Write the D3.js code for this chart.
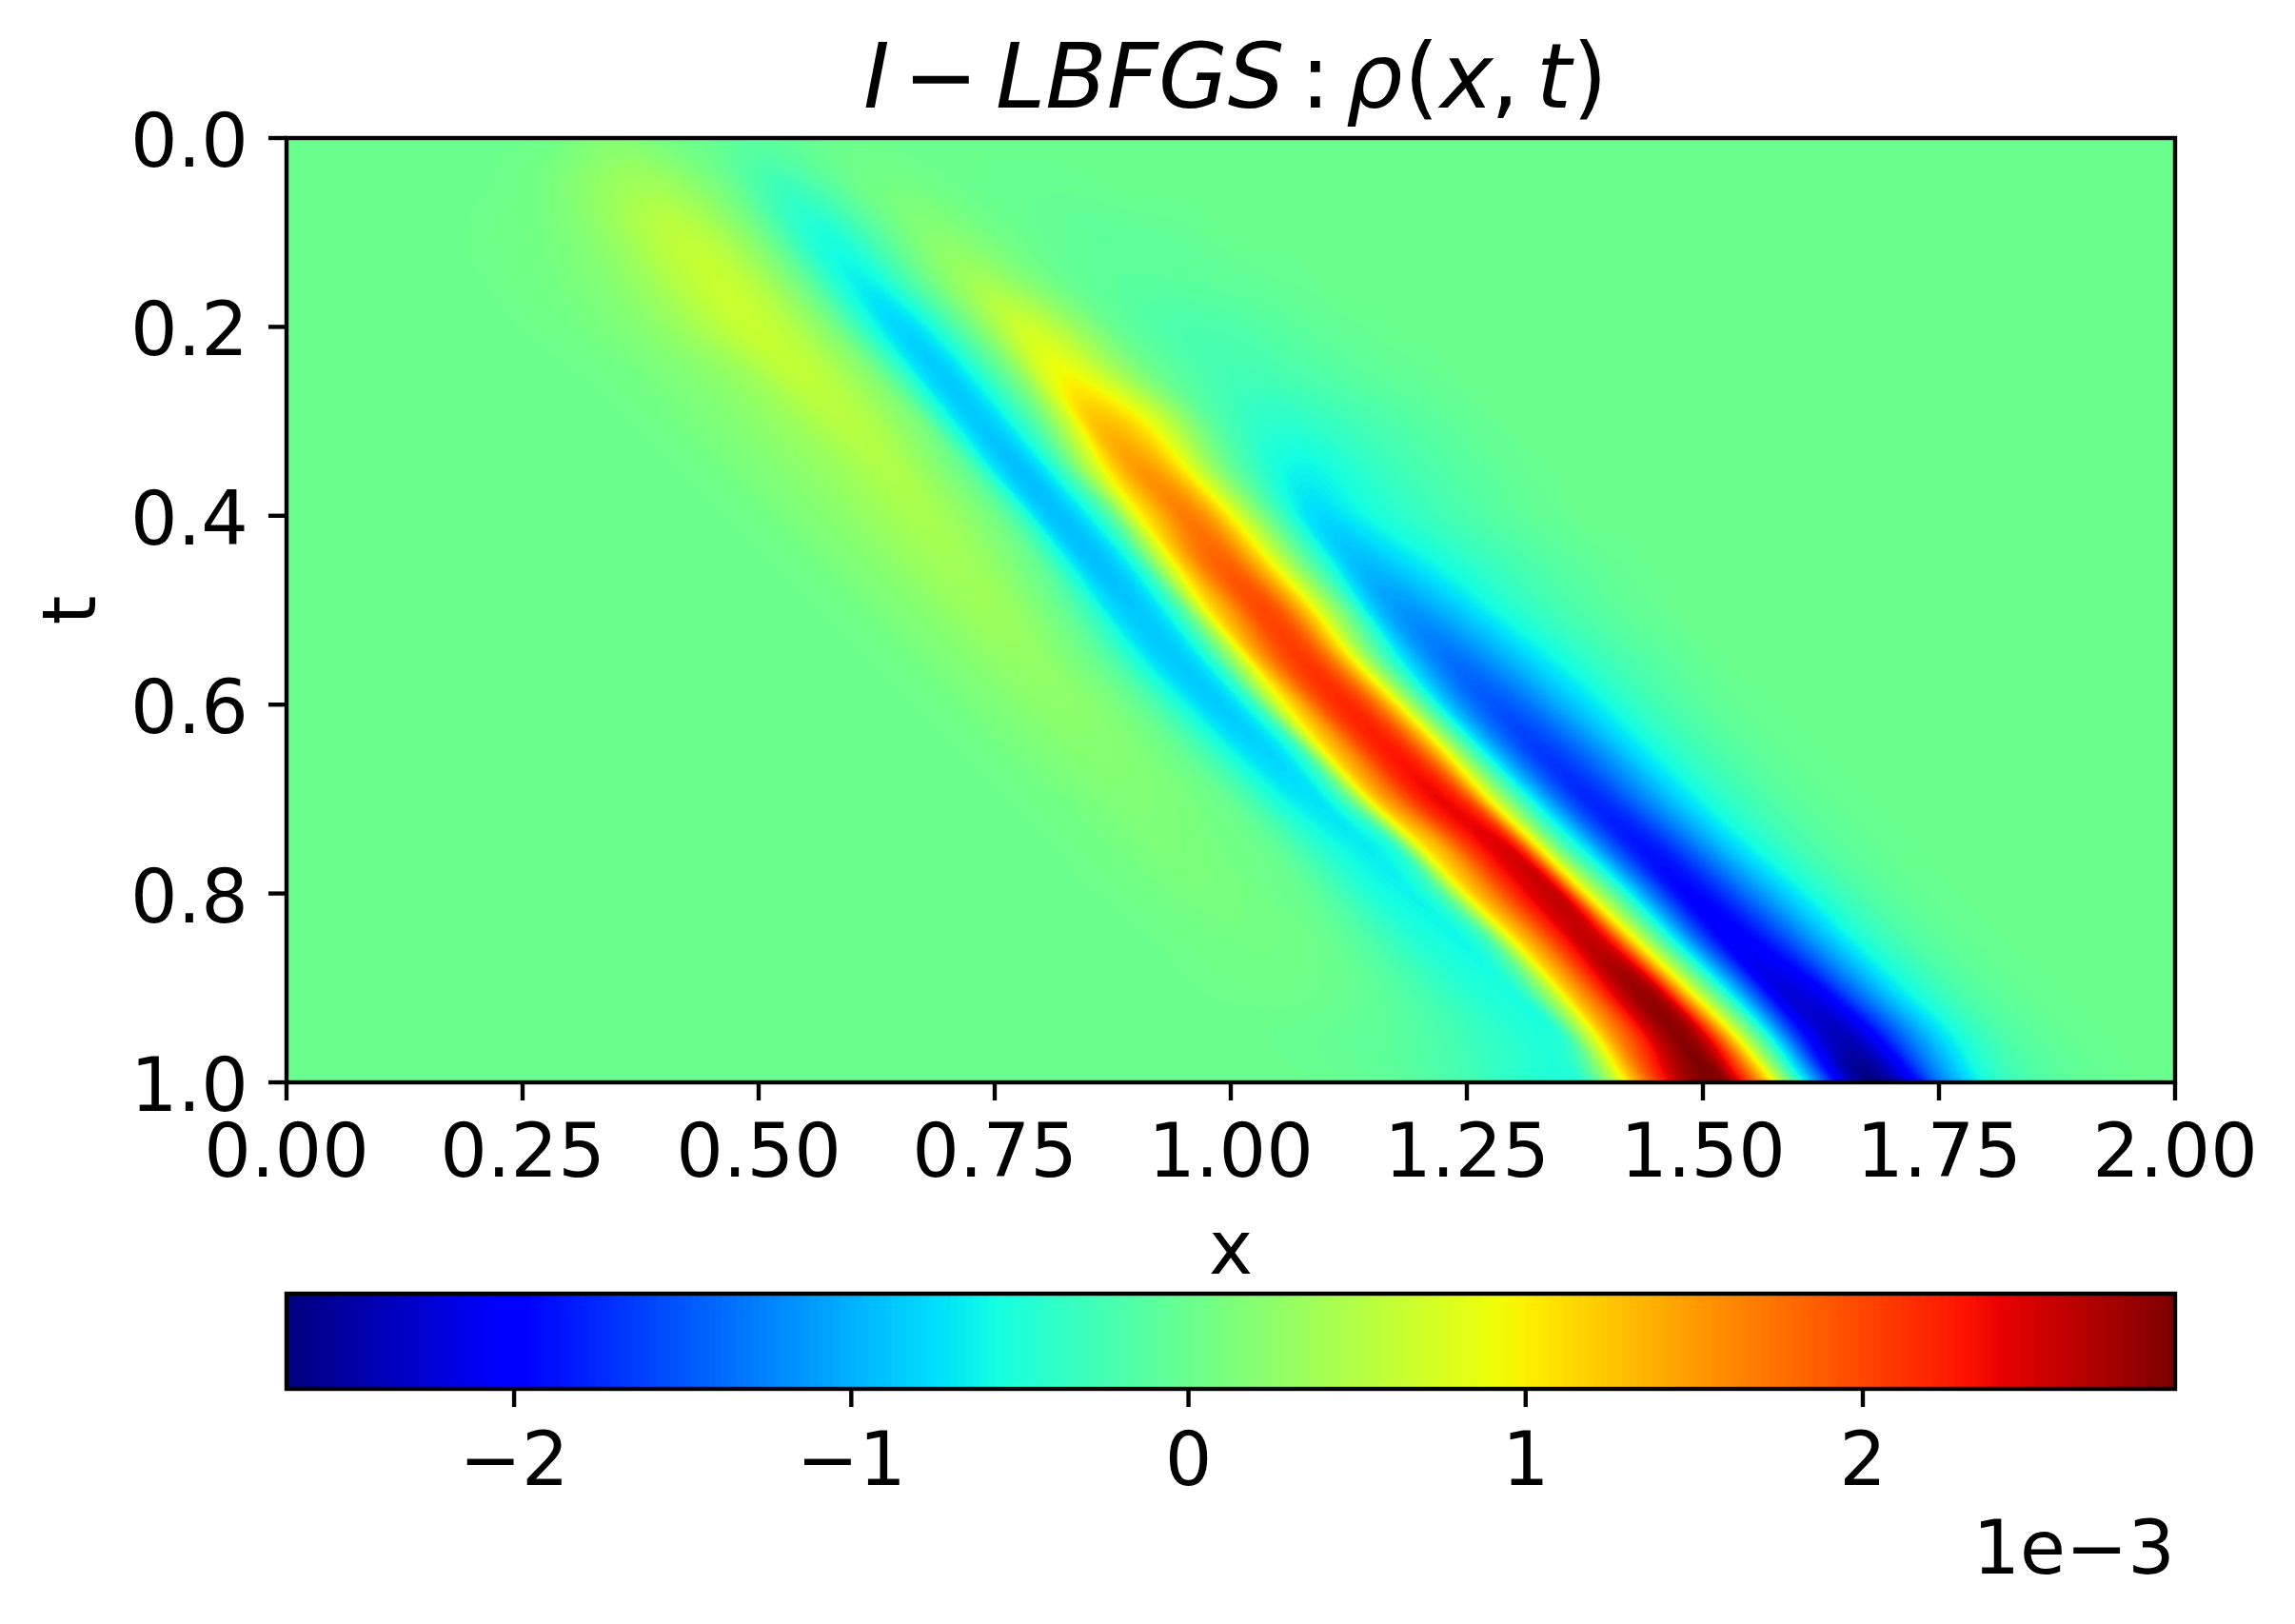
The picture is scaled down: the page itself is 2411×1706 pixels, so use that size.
<!DOCTYPE html>
<html><head><meta charset="utf-8">
<script src="https://d3js.org/d3.v7.min.js"></script>
<style>
html,body{margin:0;padding:0;background:#fff;width:2411px;height:1706px;overflow:hidden}
#c{position:absolute;left:0;top:0}
#s{position:absolute;left:0;top:0}
text{font-family:"DejaVu Sans";fill:#000}
</style></head><body>
<canvas id="c" width="2411" height="1706"></canvas>
<svg id="s" width="2411" height="1706"></svg>
<script>
// rho(x,t) in units of 1e-3. Rows every 0.05 in t, columns every 0.025 in x.
// Each row: first x of its non-zero stretch, then the values.
const xStep = 0.025, tStep = 0.05, colCount = 81;
const xTicks = [0,0.25,0.5,0.75,1,1.25,1.5,1.75,2];
const tTicks = [0,0.2,0.4,0.6,0.8,1];
const cbarTicks = [-2,-1,0,1,2];
const valueDomain = [-2.675, 2.926];
const rowStartX = [.25,.2,.175,.2,.25,.3,.35,.4,.45,.5,.55,.6,.65,.7,.75,.8,.85,.9,.95,1.05,1.1];
const rho_t00 = [.01,.04,.1,.17,.18,.14,.08,.03,-.02,-.07,-.09,-.07,-.03,0,.01,.01];
const rho_t05 = [.01,.02,.05,.1,.17,.26,.34,.38,.36,.27,.14,-.01,-.2,-.3,-.24,-.12,0,.06,.08,.06,.03,0,-.01,-.02,-.02,-.02,-.01];
const rho_t10 = [.01,.02,.04,.06,.09,.14,.22,.33,.45,.54,.56,.47,.3,.08,-.2,-.45,-.5,-.35,-.14,.05,.18,.19,.13,.06,.01,-.03,-.05,-.07,-.07,-.06,-.05,-.04,-.02];
const rho_t15 = [.01,.03,.05,.07,.1,.15,.22,.32,.44,.56,.63,.6,.45,.22,-.05,-.4,-.63,-.58,-.3,-.02,.22,.37,.35,.23,.1,-.01,-.06,-.09,-.1,-.1,-.09,-.08,-.06,-.05,-.03,-.02];
const rho_t20 = [.02,.04,.06,.09,.13,.19,.27,.37,.49,.6,.63,.55,.38,.15,-.2,-.6,-.8,-.65,-.3,.05,.4,.66,.62,.42,.2,0,-.1,-.17,-.2,-.2,-.18,-.15,-.12,-.09,-.06,-.04,-.02];
const rho_t25 = [.01,.03,.05,.08,.12,.17,.23,.31,.42,.54,.58,.5,.33,.1,-.3,-.75,-.85,-.6,-.2,.2,.72,.93,.78,.5,.22,0,-.12,-.22,-.26,-.26,-.24,-.2,-.16,-.12,-.09,-.06,-.04,-.02];
const rho_t30 = [.01,.03,.06,.09,.13,.18,.24,.31,.4,.5,.51,.43,.25,.03,-.5,-.85,-.8,-.45,0,.6,1.2,1.25,1.05,.7,.3,-.05,-.25,-.38,-.42,-.4,-.35,-.29,-.23,-.18,-.13,-.09,-.05,-.03];
const rho_t35 = [.01,.03,.06,.1,.14,.19,.25,.31,.39,.46,.45,.3,.12,-.15,-.7,-.92,-.72,-.2,.5,1.15,1.5,1.4,1,.45,0,-.3,-.55,-.62,-.58,-.48,-.38,-.3,-.23,-.17,-.12,-.08,-.04,-.02];
const rho_t40 = [.01,.03,.06,.1,.15,.2,.26,.33,.4,.42,.36,.22,.05,-.3,-.82,-.9,-.62,-.05,.85,1.35,1.68,1.5,.95,.35,-.2,-.65,-.78,-.68,-.56,-.45,-.36,-.28,-.21,-.15,-.1,-.06,-.03];
const rho_t45 = [.01,.03,.06,.1,.15,.2,.27,.34,.38,.36,.25,.1,-.1,-.55,-.9,-.85,-.45,.45,1.25,1.75,1.82,1.4,.75,.1,-.45,-.88,-.93,-.82,-.68,-.55,-.43,-.33,-.25,-.18,-.12,-.08,-.04,-.02];
const rho_t50 = [.01,.03,.06,.1,.15,.2,.27,.33,.34,.28,.13,-.05,-.35,-.75,-.88,-.7,-.1,.95,1.5,1.95,1.9,1.35,.6,-.1,-.8,-1.12,-1.12,-.98,-.8,-.62,-.47,-.35,-.25,-.17,-.11,-.06,-.03];
const rho_t55 = [.01,.03,.06,.1,.15,.2,.26,.28,.27,.15,.02,-.2,-.55,-.82,-.84,-.5,.3,1.25,1.85,2.08,1.8,1.05,.15,-.55,-1.05,-1.33,-1.3,-1.12,-.92,-.72,-.55,-.4,-.28,-.19,-.12,-.07,-.03];
const rho_t60 = [.01,.03,.06,.1,.14,.19,.23,.24,.21,.12,-.02,-.25,-.58,-.82,-.8,-.35,.7,1.4,2,2.18,1.85,1.05,.05,-.75,-1.25,-1.5,-1.45,-1.25,-1,-.78,-.58,-.4,-.27,-.18,-.1,-.05,-.02];
const rho_t65 = [.01,.03,.06,.09,.13,.17,.2,.19,.16,.07,-.05,-.28,-.58,-.78,-.75,-.3,.95,1.55,2.1,2.27,1.9,1.05,0,-.8,-1.35,-1.65,-1.58,-1.35,-1.08,-.8,-.58,-.4,-.27,-.17,-.1,-.05,-.02];
const rho_t70 = [.01,.03,.05,.08,.11,.15,.16,.14,.11,.05,-.05,-.28,-.55,-.7,-.65,-.05,1.1,1.7,2.2,2.38,2,.9,-.05,-.8,-1.4,-1.75,-1.68,-1.4,-1.1,-.82,-.58,-.4,-.27,-.16,-.09,-.05,-.02];
const rho_t75 = [.01,.03,.05,.08,.1,.13,.12,.1,.06,.02,-.08,-.28,-.48,-.63,-.65,-.35,.9,1.45,2.05,2.42,2.3,1,-.1,-.75,-1.4,-1.82,-1.82,-1.55,-1.2,-.88,-.62,-.42,-.27,-.16,-.09,-.05,-.02];
const rho_t80 = [.01,.03,.05,.07,.09,.1,.09,.07,.02,-.02,-.14,-.32,-.5,-.6,-.58,-.1,1,1.6,2.15,2.5,2.45,1.05,.1,-.7,-1.4,-1.92,-1.92,-1.65,-1.3,-.98,-.7,-.47,-.3,-.17,-.09,-.04,-.02];
const rho_t85 = [.01,.02,.04,.05,.06,.07,.06,.04,0,-.08,-.2,-.35,-.48,-.56,-.58,-.15,.95,1.6,2.2,2.6,2.35,1.15,.1,-.75,-1.5,-2,-2,-1.75,-1.4,-1.03,-.72,-.47,-.3,-.17,-.09,-.04,-.02];
const rho_t90 = [.01,.02,.03,.04,.04,.03,.01,-.02,-.07,-.14,-.24,-.36,-.46,-.52,-.48,.15,1.1,1.75,2.4,2.78,2.55,1.3,.2,-.7,-1.5,-2.15,-2.18,-1.95,-1.5,-1.1,-.75,-.5,-.32,-.18,-.1,-.05,-.02];
const rho_t95 = [-.01,-.02,-.03,-.05,-.07,-.1,-.15,-.22,-.3,-.38,-.45,-.5,-.42,.5,1.4,2,2.6,2.87,2.5,1.35,.2,-.8,-1.7,-2.25,-2.38,-2.1,-1.6,-1.15,-.78,-.5,-.3,-.17,-.1,-.05,-.02];
const rho_t100 = [-.02,-.03,-.05,-.08,-.12,-.18,-.25,-.32,-.4,-.46,-.5,-.4,.3,1.2,2,2.6,2.9,2.85,2,.95,-.3,-1.3,-2.2,-2.66,-2.5,-2,-1.35,-.9,-.55,-.33,-.2,-.12,-.07,-.04,-.02];
const rhoRows = [rho_t00,rho_t05,rho_t10,rho_t15,rho_t20,rho_t25,rho_t30,rho_t35,rho_t40,rho_t45,rho_t50,rho_t55,rho_t60,rho_t65,rho_t70,rho_t75,rho_t80,rho_t85,rho_t90,rho_t95,rho_t100];

// Layout
const L=301,R=2285,T=145,B=1137,CT=1359,CB=1459;
const FS=78, TICK=19, SW=4.4;
const x=d3.scaleLinear().domain([0,2]).range([L,R]);
const y=d3.scaleLinear().domain([0,1]).range([T,B]);
const cx=d3.scaleLinear().domain(valueDomain).range([L,R]);

// matplotlib jet
const chan=(d,r)=>d3.scaleLinear().domain(d).range(r).clamp(true);
const jr=chan([0,.35,.66,.89,1],[0,0,1,1,.5]);
const jg=chan([0,.125,.375,.64,.91,1],[0,0,1,1,0,0]);
const jb=chan([0,.11,.34,.65,1],[.5,1,1,0,0]);
const lut=d3.range(256).map(i=>{const n=i/255;return [jr(n),jg(n),jb(n)].map(v=>Math.round(v*255));});
const norm=d3.scaleLinear().domain(valueDomain).range([0,1]).clamp(true);

// Grid
const grid=rhoRows.map((row,r)=>{
  const a=new Float64Array(colCount);
  const s=Math.round(rowStartX[r]/xStep);
  row.forEach((v,k)=>{a[s+k]=v;});
  return a;
});
const cr=(p0,p1,p2,p3,f)=>0.5*((2*p1)+(-p0+p2)*f+(2*p0-5*p1+4*p2-p3)*f*f+(-p0+3*p1-3*p2+p3)*f*f*f);
const at=(a,i)=>(i<0||i>=colCount)?0:a[i];
function sampleRow(a,xv){
  const u=xv/xStep,i=Math.floor(u),f=u-i;
  return cr(at(a,i-1),at(a,i),at(a,i+1),at(a,i+2),f);
}
// smoothing between rows follows the bands' drift
const flowAt=d3.scaleLinear().domain([.4,.7,.9,1]).range([.8,.95,.95,.85]).clamp(true);
function sample(xv,tv){
  const u=tv/tStep,j=Math.floor(u),g=u-j,vals=[0,0,0,0],flow=flowAt(tv);
  for(let k=0;k<4;k++){
    const jj=Math.max(0,Math.min(rhoRows.length-1,j-1+k));
    vals[k]=sampleRow(grid[jj],xv-flow*(tv-jj*tStep));
  }
  return cr(vals[0],vals[1],vals[2],vals[3],g);
}

// Heat map drawn on the canvas through the scales
const ctx=document.getElementById('c').getContext('2d');
const img=ctx.createImageData(R-L,B-T);
for(let py=0;py<B-T;py++){
  const tv=y.invert(T+py+.5);
  for(let px=0;px<R-L;px++){
    const c=lut[Math.min(255,Math.floor(norm(sample(x.invert(L+px+.5),tv))*256))];
    const o=(py*(R-L)+px)*4;
    img.data[o]=c[0];img.data[o+1]=c[1];img.data[o+2]=c[2];img.data[o+3]=255;
  }
}
ctx.putImageData(img,L,T);

const svg=d3.select('#s');
function style(g){
  g.select('.domain').remove();
  g.selectAll('line').attr('stroke','#000').attr('stroke-width',SW);
  g.selectAll('text').attr('font-size',FS).attr('font-family','DejaVu Sans').attr('fill','#000');
}
const fmtMinus=s=>s.replace('-','\u2212');
svg.append('g').attr('transform',`translate(0,${B})`)
  .call(d3.axisBottom(x).tickValues(xTicks).tickFormat(d3.format('.2f')).tickSize(TICK).tickPadding(25).offset(0)).call(style);
svg.append('g').attr('transform',`translate(${L},0)`)
  .call(d3.axisLeft(y).tickValues(tTicks).tickFormat(d3.format('.1f')).tickSize(TICK).tickPadding(21).offset(0)).call(style)
  .selectAll('text').attr('dy','0.385em');
svg.append('rect').attr('x',L).attr('y',T).attr('width',R-L).attr('height',B-T)
  .attr('fill','none').attr('stroke','#000').attr('stroke-width',SW);

// Colour bar
const cbarG=svg.append('g').attr('shape-rendering','crispEdges');
cbarG.selectAll('rect').data(d3.range(256)).join('rect')
  .attr('x',i=>cx(valueDomain[0]+(valueDomain[1]-valueDomain[0])*i/256))
  .attr('width',(R-L)/256+.6).attr('y',CT).attr('height',CB-CT)
  .attr('fill',i=>d3.rgb(...lut[i]).formatHex());
svg.append('rect').attr('x',L).attr('y',CT).attr('width',R-L).attr('height',CB-CT)
  .attr('fill','none').attr('stroke','#000').attr('stroke-width',SW);
svg.append('g').attr('transform',`translate(0,${CB})`)
  .call(d3.axisBottom(cx).tickValues(cbarTicks).tickFormat(d=>fmtMinus(String(d))).tickSize(TICK).tickPadding(27).offset(0)).call(style);

// Labels
svg.append('text').attr('x',(L+R)/2).attr('y',1338).attr('text-anchor','middle').attr('font-size',FS).text('x');
svg.append('text').attr('transform','translate(100,641) rotate(-90)').attr('text-anchor','middle').attr('font-size',FS).text('t');
svg.append('text').attr('x',2285).attr('y',1653).attr('text-anchor','end').attr('font-size',FS).text('1e\u22123');

// Title (mathtext-style runs)
const titleRuns=[['I',907,1],['\u2212',949,0],['LBFGS',1046,1],[':',1366,0],['\u03C1',1414,1],['(',1475,0],['x',1513,1],[',',1566,0],['t',1614,1],[')',1652,0]];
svg.append('g').selectAll('text').data(titleRuns).join('text')
  .attr('x',d=>d[1]).attr('y',113).attr('font-size',94)
  .attr('font-style',d=>d[2]?'italic':'normal').text(d=>d[0]);
</script>
</body></html>
